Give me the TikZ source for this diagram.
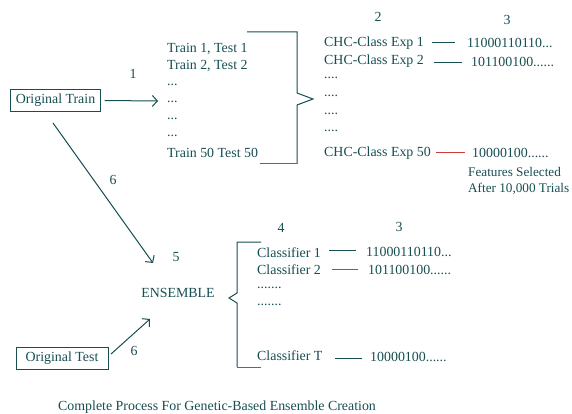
\documentclass[tikz,border=0pt]{standalone}
\usepackage{fontspec}
\setmainfont{Liberation Serif}
\usetikzlibrary{arrows.meta}
\definecolor{ink}{RGB}{22,78,82}
\definecolor{redink}{RGB}{200,60,60}
\begin{document}
\begin{tikzpicture}[x=1pt,y=-1pt,
  every node/.style={text=ink, font=\fontsize{13.9}{16}\selectfont, inner sep=0pt},
  lbl/.style={anchor=west},
  num/.style={anchor=center},
  box/.style={draw=ink, line width=1pt, inner xsep=5pt, inner ysep=4pt, minimum height=22pt},
  ln/.style={draw=ink, line width=1pt},
  rln/.style={draw=redink, line width=1pt},
  arr/.style={ln, -{Straight Barb[length=5pt,width=11pt]}}]
\useasboundingbox (0,0) rectangle (572,414);

% top-left
\node[box, minimum width=89pt] (otrain) at (55.5,100.5) {Original Train};
\node[num] (n1) at (133,74) {1};
\coordinate (a1end) at (158,101);
\draw[arr] (otrain.east) ++(4,0) -- (a1end);

% train/test list
\node[lbl] (tt1) at (167,49) {Train 1, Test 1};
\node[lbl] (tt2) at (167,66) {Train 2, Test 2};
\node[lbl] (td1) at (167,85) {...};
\node[lbl] (td2) at (167,102) {...};
\node[lbl] (td3) at (167,119) {...};
\node[lbl] (td4) at (167,136) {...};
\node[lbl] (tt50) at (167,153) {Train 50 Test 50};

% top brace
\coordinate (b1a) at (247,32);
\coordinate (b1b) at (260,164);
\draw[ln] (b1a) -- (297,32) -- (297,93) -- (313,99) -- (297,105) -- (297,164);
\draw[rln] (297,164) -- (b1b);

% CHC column
\node[num] (n2) at (378,17) {2};
\node[num] (n3a) at (507,20) {3};
\node[lbl] (c1) at (324,43) {CHC-Class Exp 1};
\node[lbl] (c2) at (324,61) {CHC-Class Exp 2};
\node[lbl] (cd1) at (324,78) {....};
\node[lbl] (cd2) at (324,96) {....};
\node[lbl] (cd3) at (324,114) {....};
\node[lbl] (cd4) at (324,131) {....};
\node[lbl] (c50) at (324,153) {CHC-Class Exp 50};

\node[lbl] (s1) at (467,43) {11000110110...};
\node[lbl] (s2) at (471,62) {101100100......};
\node[lbl] (s50) at (472,153) {10000100......};
\draw[ln] (432,43) coordinate (l1a) -- (455,43) coordinate (l1b);
\draw[ln] (434,63) coordinate (l2a) -- (462,63) coordinate (l2b);
\draw[rln] (436,153) coordinate (l3a) -- (465,153) coordinate (l3b);

\node[lbl, font=\fontsize{13.2}{15}\selectfont] (fs1) at (468,172) {Features Selected};
\node[lbl, font=\fontsize{13.2}{15}\selectfont] (fs2) at (468,189) {After 10,000 Trials};

% arrows to ensemble
\node[num] (n6a) at (113,180) {6};
\node[num] (n5) at (176,257) {5};
\node (ens) at (178,293) {ENSEMBLE};
\coordinate (a6aend) at (153,263);
\draw[arr] (53,123) coordinate (a6astart) -- (a6aend);

\node[box, minimum width=92pt] (otest) at (62,358.5) {Original Test};
\node[num] (n6b) at (134,351) {6};
\coordinate (a6bend) at (150,319);
\draw[arr] (111,354) coordinate (a6bstart) -- (a6bend);

% lower brace
\coordinate (b2a) at (261,242);
\coordinate (b2b) at (261,367);
\draw[ln] (b2a) -- (237,242) -- (237,293) -- (229,298) -- (237,303) -- (237,367);
\draw[rln] (237,367) -- (b2b);

\node[num] (n4) at (281,228) {4};
\node[num] (n3b) at (399,227) {3};
\node[lbl] (k1) at (257,253) {Classifier 1};
\node[lbl] (k2) at (257,270) {Classifier 2};
\node[lbl] (kd1) at (257,288) {.......};
\node[lbl] (kd2) at (257,305) {.......};
\node[lbl] (kT) at (257,356) {Classifier T};

\node[lbl] (t1) at (366,252) {11000110110...};
\node[lbl] (t2) at (368,270) {101100100......};
\node[lbl] (tT) at (370,357) {10000100......};
\draw[ln] (329,250) coordinate (m1a) -- (356,250) coordinate (m1b);
\draw[rln] (332,269) coordinate (m2a) -- (358,269) coordinate (m2b);
\draw[ln] (335,358) coordinate (m3a) -- (362,358) coordinate (m3b);

% caption
\node[lbl, font=\fontsize{13.9}{16}\selectfont] (cap) at (58,407) {Complete Process For Genetic-Based Ensemble Creation};
\end{tikzpicture}
\end{document}
